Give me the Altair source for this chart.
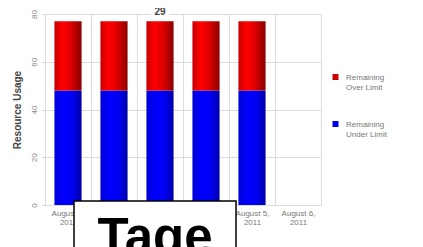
import altair as alt
import pandas as pd

categories = ["August 1, 2011", "August 2, 2011", "August 3, 2011",
              "August 4, 2011", "August 5, 2011", "August 6, 2011"]
under_limit = [48, 48, 48, 48, 48, None]
over_limit = [29, 29, 29, 29, 29, None]
series_names = ["Remaining Over Limit", "Remaining Under Limit"]
series_colors = ["#cc0000", "#0000ee"]
y_ticks = [0, 10, 20, 30, 40, 50, 60, 70, 80]
title_text = "29"
overlay_text = "Tage"
y_title = "Resource Usage"

df = pd.DataFrame({"cat": categories, "under": under_limit, "over": over_limit})
df["total"] = df["under"] + df["over"]

FONT = "Liberation Sans"

xenc = alt.X(
    "cat:N", sort=categories,
    scale=alt.Scale(domain=categories, paddingInner=0, paddingOuter=0),
    axis=alt.Axis(title=None, tickBand="extent", grid=True, gridColor="#dcdcdc",
                  ticks=False, domain=False, labelAngle=0, labelFont=FONT,
                  labelFontSize=8, labelColor="#777", labelPadding=4,
                  labelLineHeight=9, labelBaseline="top",
                  labelExpr="length(split(datum.label,' ')) == 3 ? [split(datum.label,' ')[0] + ' ' + split(datum.label,' ')[1], split(datum.label,' ')[2]] : ''"),
)

yscale = alt.Scale(domain=[0, 80], nice=False)
yaxis = alt.Axis(title=y_title, values=y_ticks, grid=True, gridColor="#dcdcdc",
                 domain=False, tickSize=3, tickColor="#cccccc",
                 labelExpr="datum.value % 20 == 0 ? datum.label : ''",
                 labelAngle=270, labelAlign="center", labelBaseline="bottom",
                 labelFont=FONT, labelFontSize=8, labelColor="#888", labelPadding=4,
                 titleFont=FONT, titleFontSize=10, titleFontWeight="bold",
                 titleColor="#444", titlePadding=8)

red_grad = alt.Gradient(gradient="linear", x1=0, x2=1, y1=0, y2=0, stops=[
    alt.GradientStop(color="#c80000", offset=0),
    alt.GradientStop(color="#ff0000", offset=0.3),
    alt.GradientStop(color="#e00000", offset=0.6),
    alt.GradientStop(color="#8a0000", offset=1),
])
blue_grad = alt.Gradient(gradient="linear", x1=0, x2=1, y1=0, y2=0, stops=[
    alt.GradientStop(color="#0000d8", offset=0),
    alt.GradientStop(color="#0000ff", offset=0.35),
    alt.GradientStop(color="#0000ee", offset=0.7),
    alt.GradientStop(color="#0000a8", offset=1),
])

base = alt.Chart(df)
blue = base.mark_bar(fill=blue_grad, width=alt.RelativeBandSize(0.59)).encode(
    x=xenc, y=alt.Y("under:Q", scale=yscale, axis=yaxis), y2=alt.Y2(datum=0))
red = base.mark_bar(fill=red_grad, width=alt.RelativeBandSize(0.59)).encode(
    x=alt.X("cat:N", sort=categories), y=alt.Y("total:Q"), y2="under:Q")
bars = alt.layer(blue, red)

# legend built from the series list, placed through its own point scale
legend_df = pd.DataFrame({"series": series_names})
leg_y = alt.Y("series:N", sort=series_names,
              scale=alt.Scale(domain=series_names, range=[63, 110], padding=0), axis=None)
leg_sym = alt.Chart(legend_df).mark_square(size=36, opacity=1).encode(
    x=alt.value(290.5), y=leg_y,
    color=alt.Color("series:N", scale=alt.Scale(domain=series_names, range=series_colors),
                    legend=None))
leg_txt = alt.Chart(legend_df).transform_calculate(
    lab="replace(datum.series, ' ', '\\n')"
).mark_text(font=FONT, fontSize=8, color="#777", align="left", baseline="alphabetic",
            dy=3, lineBreak="\n", lineHeight=9.5).encode(
    x=alt.value(301), y=leg_y, text="lab:N")
legend = alt.layer(leg_sym, leg_txt)

tdf = pd.DataFrame({"t": [title_text], "o": [overlay_text]})
title_bg = alt.Chart(tdf).mark_rect(fill="white").encode(
    x=alt.value(106), x2=alt.value(124), y=alt.value(-9), y2=alt.value(2))
title_mark = alt.Chart(tdf).mark_text(font=FONT, fontSize=10, fontWeight="bold",
                                      color="#444", baseline="middle").encode(
    x=alt.value(115), y=alt.value(-2.5), text="t:N")

box = alt.Chart(tdf).mark_rect(fill="white", stroke="black", strokeWidth=1.5).encode(
    x=alt.value(29), x2=alt.value(191), y=alt.value(187), y2=alt.value(260))
box_text = alt.Chart(tdf).mark_text(font=FONT, fontSize=51, fontWeight="bold",
                                    color="black", baseline="alphabetic").encode(
    x=alt.value(110), y=alt.value(240), text="o:N")

chart = alt.layer(bars, legend, title_bg, title_mark, box, box_text).resolve_scale(
    y="independent"
).properties(
    width=276, height=191,
    autosize=alt.AutoSizeParams(type="none"),
    padding={"left": 37, "top": 6, "right": 87, "bottom": 42},
).configure_view(strokeOpacity=0)

chart.save("out.html", embed_options={"renderer": "svg", "actions": False})
